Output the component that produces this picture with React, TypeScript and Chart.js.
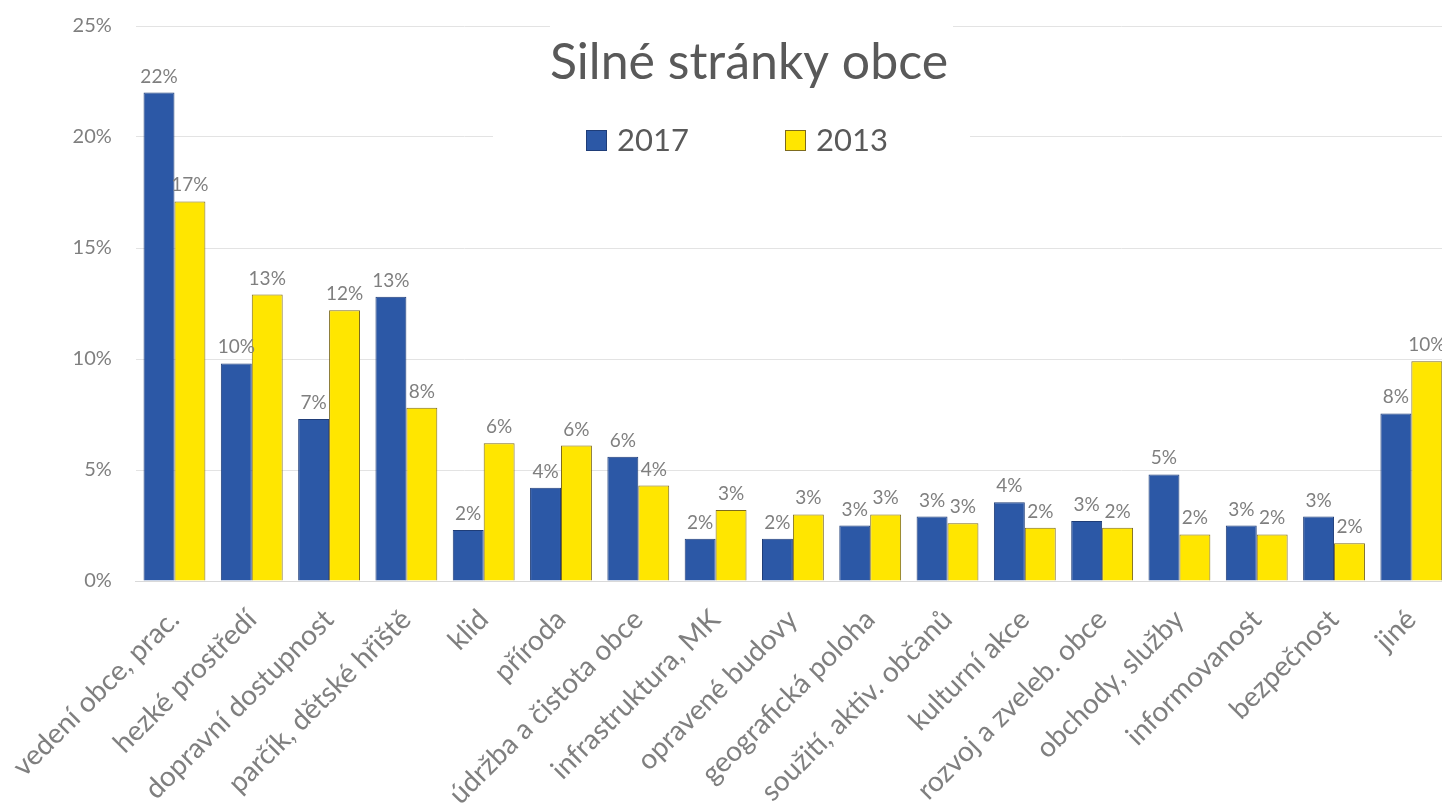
import React, { useEffect, useRef } from "react";
import { Chart, registerables } from "chart.js";

Chart.register(...registerables);

const categories = [
  "vedení obce, prac.",
  "hezké prostředí",
  "dopravní dostupnost",
  "parčík, dětské hřiště",
  "klid",
  "příroda",
  "údržba a čistota obce",
  "infrastruktura, MK",
  "opravené budovy",
  "geografická poloha",
  "soužití, aktiv. občanů",
  "kulturní akce",
  "rozvoj a zveleb. obce",
  "obchody, služby",
  "informovanost",
  "bezpečnost",
  "jiné",
];

const values2017 = [22.0, 9.8, 7.3, 12.8, 2.3, 4.2, 5.6, 1.9, 1.9, 2.5, 2.9, 3.55, 2.7, 4.8, 2.5, 2.9, 7.55];
const values2013 = [17.1, 12.9, 12.2, 7.8, 6.2, 6.1, 4.3, 3.2, 3.0, 3.0, 2.6, 2.4, 2.4, 2.1, 2.1, 1.7, 9.9];

const seriesLabels = ["2017", "2013"];
const yTicks = [0, 5, 10, 15, 20, 25];
const chartTitle = "Silné stránky obce";

const FONT = "Lato, 'Open Sans', sans-serif";
const BLUE = "#2C58A6";
const BLUE_BORDER = "#1F3D78";
const YELLOW = "#FFE600";
const YELLOW_BORDER = "#7D6B1E";

const dataLabelPlugin = {
  id: "dataLabels",
  afterDatasetsDraw(chart: any) {
    const ctx = chart.ctx;
    ctx.save();
    ctx.font = `19px ${FONT}`;
    ctx.fillStyle = "#7F7F7F";
    ctx.textAlign = "center";
    ctx.textBaseline = "alphabetic";
    chart.data.datasets.forEach((ds: any, di: number) => {
      const meta = chart.getDatasetMeta(di);
      meta.data.forEach((bar: any, i: number) => {
        const v = ds.data[i];
        ctx.fillText(`${Math.round(v)}%`, bar.x, bar.y - 10);
      });
    });
    ctx.restore();
  },
};

const overlayPlugin = {
  id: "overlayTitleLegend",
  afterDraw(chart: any) {
    const ctx = chart.ctx;
    ctx.save();
    ctx.fillStyle = "#FFFFFF";
    ctx.fillRect(550, 12, 403, 84);
    ctx.fillRect(493, 104, 477, 68);
    ctx.fillStyle = "#595959";
    ctx.font = `50px ${FONT}`;
    ctx.textAlign = "center";
    ctx.textBaseline = "alphabetic";
    ctx.fillText(chartTitle, 749, 79);

    const items = chart.data.datasets.map((ds: any) => ({
      label: ds.label,
      fill: ds.backgroundColor,
      stroke: ds.borderColor,
    }));
    const starts = [586, 785];
    ctx.font = `31px ${FONT}`;
    ctx.textAlign = "left";
    items.forEach((it: any, i: number) => {
      const x = starts[i];
      ctx.fillStyle = it.fill;
      ctx.fillRect(x, 130, 21, 21);
      ctx.strokeStyle = it.stroke;
      ctx.lineWidth = 1;
      ctx.strokeRect(x + 0.5, 130.5, 20, 20);
      ctx.fillStyle = "#595959";
      ctx.fillText(it.label, x + 31, 151);
    });
    ctx.restore();
  },
};

export default function App() {
  const canvasRef = useRef<HTMLCanvasElement | null>(null);

  useEffect(() => {
    document.body.style.margin = "0";
    document.body.style.overflow = "hidden";
    const canvas = canvasRef.current;
    if (!canvas) return;
    const chart = new Chart(canvas, {
      type: "bar",
      data: {
        labels: categories,
        datasets: [
          {
            label: seriesLabels[0],
            data: values2017,
            backgroundColor: BLUE,
            borderColor: BLUE_BORDER,
            borderWidth: 1,
          },
          {
            label: seriesLabels[1],
            data: values2013,
            backgroundColor: YELLOW,
            borderColor: YELLOW_BORDER,
            borderWidth: 1,
          },
        ],
      },
      options: {
        animation: false,
        responsive: true,
        maintainAspectRatio: false,
        layout: { padding: { top: 26, left: 0, right: 0, bottom: 0 } },
        datasets: {
          bar: { categoryPercentage: 0.8, barPercentage: 1.0 },
        },
        plugins: {
          legend: { display: false },
          title: { display: false },
          tooltip: { enabled: false },
        },
        scales: {
          x: {
            grid: { display: false },
            border: { color: "#D9D9D9" },
            ticks: {
              color: "#7F7F7F",
              font: { family: FONT, size: 28 },
              maxRotation: 45,
              minRotation: 45,
              autoSkip: false,
              padding: 14,
            },
            afterFit(scale: any) {
              scale.height = 223;
            },
          },
          y: {
            min: 0,
            max: 25,
            afterBuildTicks(scale: any) {
              scale.ticks = yTicks.map((v) => ({ value: v }));
            },
            grid: { color: "#E3E3E3", drawTicks: false },
            border: { display: false },
            ticks: {
              color: "#7F7F7F",
              font: { family: FONT, size: 20 },
              padding: 24,
              callback: (v: any) => `${v}%`,
            },
            afterFit(scale: any) {
              scale.width = 134;
              scale.paddingTop = 0;
              scale.paddingBottom = 0;
            },
          },
        },
      },
      plugins: [dataLabelPlugin, overlayPlugin],
    });
    return () => chart.destroy();
  }, []);

  return (
    <div style={{ width: 1450, height: 804, position: "relative" }}>
      <canvas ref={canvasRef} />
    </div>
  );
}
